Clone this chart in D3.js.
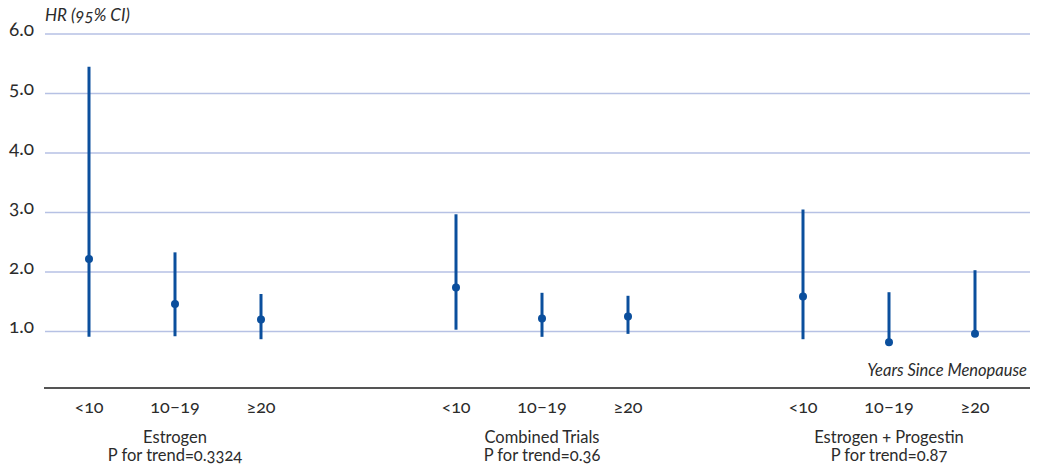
<!DOCTYPE html>
<html>
<head>
<meta charset="utf-8">
<script src="https://cdn.jsdelivr.net/npm/d3@7"></script>
<style>
  html, body { margin: 0; padding: 0; background: #fff; }
  svg { display: block; font-family: Lato, "Open Sans", sans-serif; font-variant-numeric: oldstyle-nums; font-feature-settings: "onum" 1; }
</style>
</head>
<body>
<svg id="chart" width="1037" height="468"></svg>
<script>
// Hazard ratios with 95% confidence intervals by years since menopause
const groups = ["Estrogen", "Combined Trials", "Estrogen + Progestin"];
const trendLabels = ["P for trend=0.3324", "P for trend=0.36", "P for trend=0.87"];
const yearBands = ["<10", "10–19", "≥20"];

const hrEstrogen = [2.22, 1.46, 1.20];
const lowEstrogen = [0.91, 0.92, 0.87];
const highEstrogen = [5.45, 2.33, 1.63];

const hrCombined = [1.74, 1.22, 1.25];
const lowCombined = [1.03, 0.91, 0.96];
const highCombined = [2.97, 1.65, 1.60];

const hrEP = [1.59, 0.82, 0.96];
const lowEP = [0.87, 0.80, 0.94];
const highEP = [3.05, 1.66, 2.03];

const yTicks = [1, 2, 3, 4, 5, 6];

const seriesByGroup = [
  { hr: hrEstrogen, low: lowEstrogen, high: highEstrogen },
  { hr: hrCombined, low: lowCombined, high: highCombined },
  { hr: hrEP, low: lowEP, high: highEP }
];

const rows = [];
groups.forEach((g, gi) => {
  yearBands.forEach((b, bi) => {
    rows.push({ group: g, band: b, hr: seriesByGroup[gi].hr[bi], low: seriesByGroup[gi].low[bi], high: seriesByGroup[gi].high[bi] });
  });
});

const svg = d3.select("#chart");
const left = 45, right = 1030;
const markColor = "#0b4f9d";
const gridColor = "#b6c1e4";
const textColor = "#2b2b2b";

const y = d3.scaleLinear().domain([0.05, 6]).range([388, 34]);

// group centres and the within-group offsets
const groupX = d3.scaleOrdinal().domain(groups).range([175, 542, 889]);
const bandX = d3.scalePoint().domain(yearBands).range([-86, 86]);
const x = d => groupX(d.group) + bandX(d.band);

// gridlines
svg.append("g").selectAll("line").data(yTicks).join("line")
  .attr("x1", left).attr("x2", right)
  .attr("y1", d => y(d)).attr("y2", d => y(d))
  .attr("stroke", gridColor).attr("stroke-width", 1.5);

// y tick labels
svg.append("g").selectAll("text").data(yTicks).join("text")
  .attr("x", 9).attr("y", d => y(d) + 2)
  .attr("font-size", 19).attr("fill", textColor)
  .text(d3.format(".1f"));

// axis title
svg.append("text").attr("x", 45).attr("y", 21)
  .attr("font-size", 17).attr("font-style", "italic").attr("fill", textColor)
  .text("HR (95% CI)");

// baseline
svg.append("line").attr("x1", left - 1).attr("x2", right)
  .attr("y1", y(0.05)).attr("y2", y(0.05))
  .attr("stroke", "#555").attr("stroke-width", 2);

svg.append("text").attr("x", 1027).attr("y", 376)
  .attr("text-anchor", "end").attr("font-size", 16.5).attr("font-style", "italic").attr("fill", textColor)
  .text("Years Since Menopause");

// confidence interval bars
svg.append("g").selectAll("line").data(rows).join("line")
  .attr("x1", x).attr("x2", x)
  .attr("y1", d => y(d.low)).attr("y2", d => y(d.high))
  .attr("stroke", markColor).attr("stroke-width", 3);

// point estimates
svg.append("g").selectAll("circle").data(rows).join("circle")
  .attr("cx", x).attr("cy", d => y(d.hr)).attr("r", 4)
  .attr("fill", markColor);

// category labels
svg.append("g").selectAll("text").data(rows).join("text")
  .attr("x", x).attr("y", 413)
  .attr("text-anchor", "middle").attr("font-size", 18).attr("fill", textColor)
  .text(d => d.band);

// group names and trend tests
svg.append("g").selectAll("text").data(groups).join("text")
  .attr("x", g => groupX(g)).attr("y", 443)
  .attr("text-anchor", "middle").attr("font-size", 16.5).attr("fill", textColor)
  .text(g => g);

svg.append("g").selectAll("text").data(groups).join("text")
  .attr("x", g => groupX(g)).attr("y", 461)
  .attr("text-anchor", "middle").attr("font-size", 16.5).attr("fill", textColor)
  .text((g, i) => trendLabels[i]);
</script>
</body>
</html>
